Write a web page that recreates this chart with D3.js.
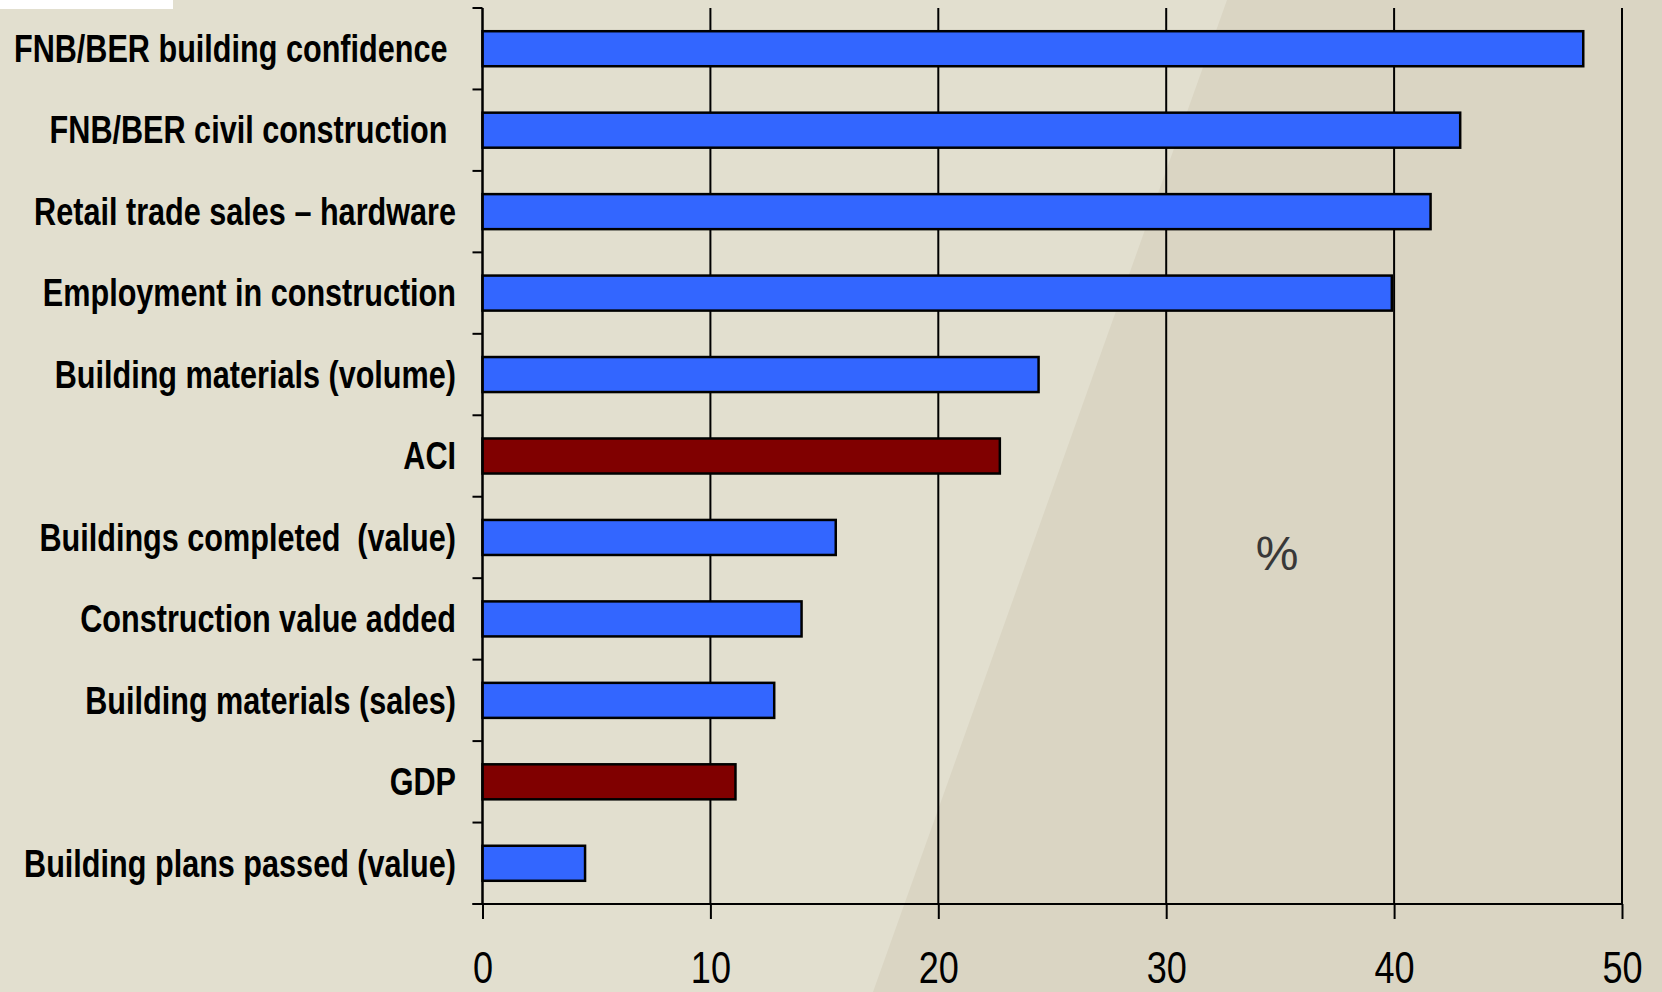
<!DOCTYPE html>
<html>
<head>
<meta charset="utf-8">
<script src="https://cdn.jsdelivr.net/npm/d3@7"></script>
<style>
  html, body { margin: 0; padding: 0; background: #E2DFCF; }
  svg { display: block; }
  .cat { font-family: "Liberation Sans Narrow", "Arial Narrow", "Liberation Sans", Arial, sans-serif; font-weight: bold; font-size: 39px; fill: #000; white-space: pre; }
  .tick-label { font-family: "Liberation Sans Narrow", "Arial Narrow", "Liberation Sans", Arial, sans-serif; font-size: 44px; fill: #000; }
</style>
</head>
<body>
<svg id="chart" width="1662" height="992"></svg>
<script>
const categories = [
  "FNB/BER building confidence ",
  "FNB/BER civil construction ",
  "Retail trade sales – hardware",
  "Employment in construction",
  "Building materials (volume)",
  "ACI",
  "Buildings completed  (value)",
  "Construction value added",
  "Building materials (sales)",
  "GDP",
  "Building plans passed (value)"
];
const values = [48.3, 42.9, 41.6, 39.9, 24.4, 22.7, 15.5, 14.0, 12.8, 11.1, 4.5];
const highlighted = ["ACI", "GDP"];
const xTicks = [0, 10, 20, 30, 40, 50];
const unitLabel = "%";

const W = 1662, H = 992;
const svg = d3.select("#chart");
const narrowLabel = 0.785; // horizontal squeeze to mimic a narrow typeface
const narrowTick = 0.82;

// background
svg.append("rect").attr("x", 0).attr("y", 0).attr("width", W).attr("height", H).attr("fill", "#E2DFCF");
svg.append("path").attr("d", "M1227,0 L1662,0 L1662,992 L873,992 Z").attr("fill", "#DAD5C3");
svg.append("rect").attr("x", 0).attr("y", 0).attr("width", 173).attr("height", 9).attr("fill", "#FFFFFF");

const x = d3.scaleLinear().domain([0, 50]).range([482.5, 1622]);
const plotTop = 8, plotBottom = 904;
const y = d3.scaleBand().domain(categories).range([plotTop, plotBottom]).paddingInner(0.57).paddingOuter(0.285);

// gridlines
svg.append("g").selectAll("line").data(xTicks).join("line")
  .attr("x1", d => x(d)).attr("x2", d => x(d))
  .attr("y1", plotTop).attr("y2", plotBottom)
  .attr("stroke", "#000").attr("stroke-width", 2);

// bars
svg.append("g").selectAll("rect").data(categories).join("rect")
  .attr("x", x(0))
  .attr("y", d => y(d))
  .attr("width", (d, i) => x(values[i]) - x(0))
  .attr("height", y.bandwidth())
  .attr("fill", d => highlighted.includes(d) ? "#800000" : "#3366FF")
  .attr("stroke", "#000").attr("stroke-width", 2.5);

// y axis line
svg.append("line").attr("x1", x(0)).attr("x2", x(0)).attr("y1", plotTop).attr("y2", plotBottom)
  .attr("stroke", "#000").attr("stroke-width", 2);

// y ticks at band boundaries
const step = y.step();
const bounds = d3.range(categories.length + 1).map(i => plotTop + i * step);
svg.append("g").selectAll("line").data(bounds).join("line")
  .attr("x1", x(0) - 10).attr("x2", x(0))
  .attr("y1", d => d).attr("y2", d => d)
  .attr("stroke", "#000").attr("stroke-width", 2);

// x axis
const xAxis = d3.axisBottom(x).tickValues(xTicks).tickSize(15).tickPadding(33).tickFormat(d3.format("d"));
const gx = svg.append("g").attr("transform", `translate(0,${plotBottom})`).call(xAxis);
gx.attr("font-size", null).attr("font-family", null);
gx.select(".domain").remove();
gx.selectAll(".tick line").attr("stroke", "#000").attr("stroke-width", 2);
gx.selectAll(".tick text").attr("class", "tick-label").attr("fill", "#000")
  .attr("transform", `scale(${narrowTick},1)`);
svg.append("line").attr("x1", x(0) - 10).attr("x2", x(50)).attr("y1", plotBottom).attr("y2", plotBottom)
  .attr("stroke", "#000").attr("stroke-width", 2);

// category labels
svg.append("g").selectAll("text").data(categories).join("text")
  .attr("class", "cat")
  .attr("transform", d => `translate(456,${y(d) + y.bandwidth() / 2}) scale(${narrowLabel},1)`)
  .attr("dy", "0.34em")
  .attr("text-anchor", "end")
  .text(d => d);

// unit label
svg.append("text").attr("x", 1277).attr("y", 570).attr("text-anchor", "middle")
  .attr("font-family", "'Liberation Sans', Arial, sans-serif").attr("font-size", 48)
  .attr("fill", "#383838").text(unitLabel);
</script>
</body>
</html>
